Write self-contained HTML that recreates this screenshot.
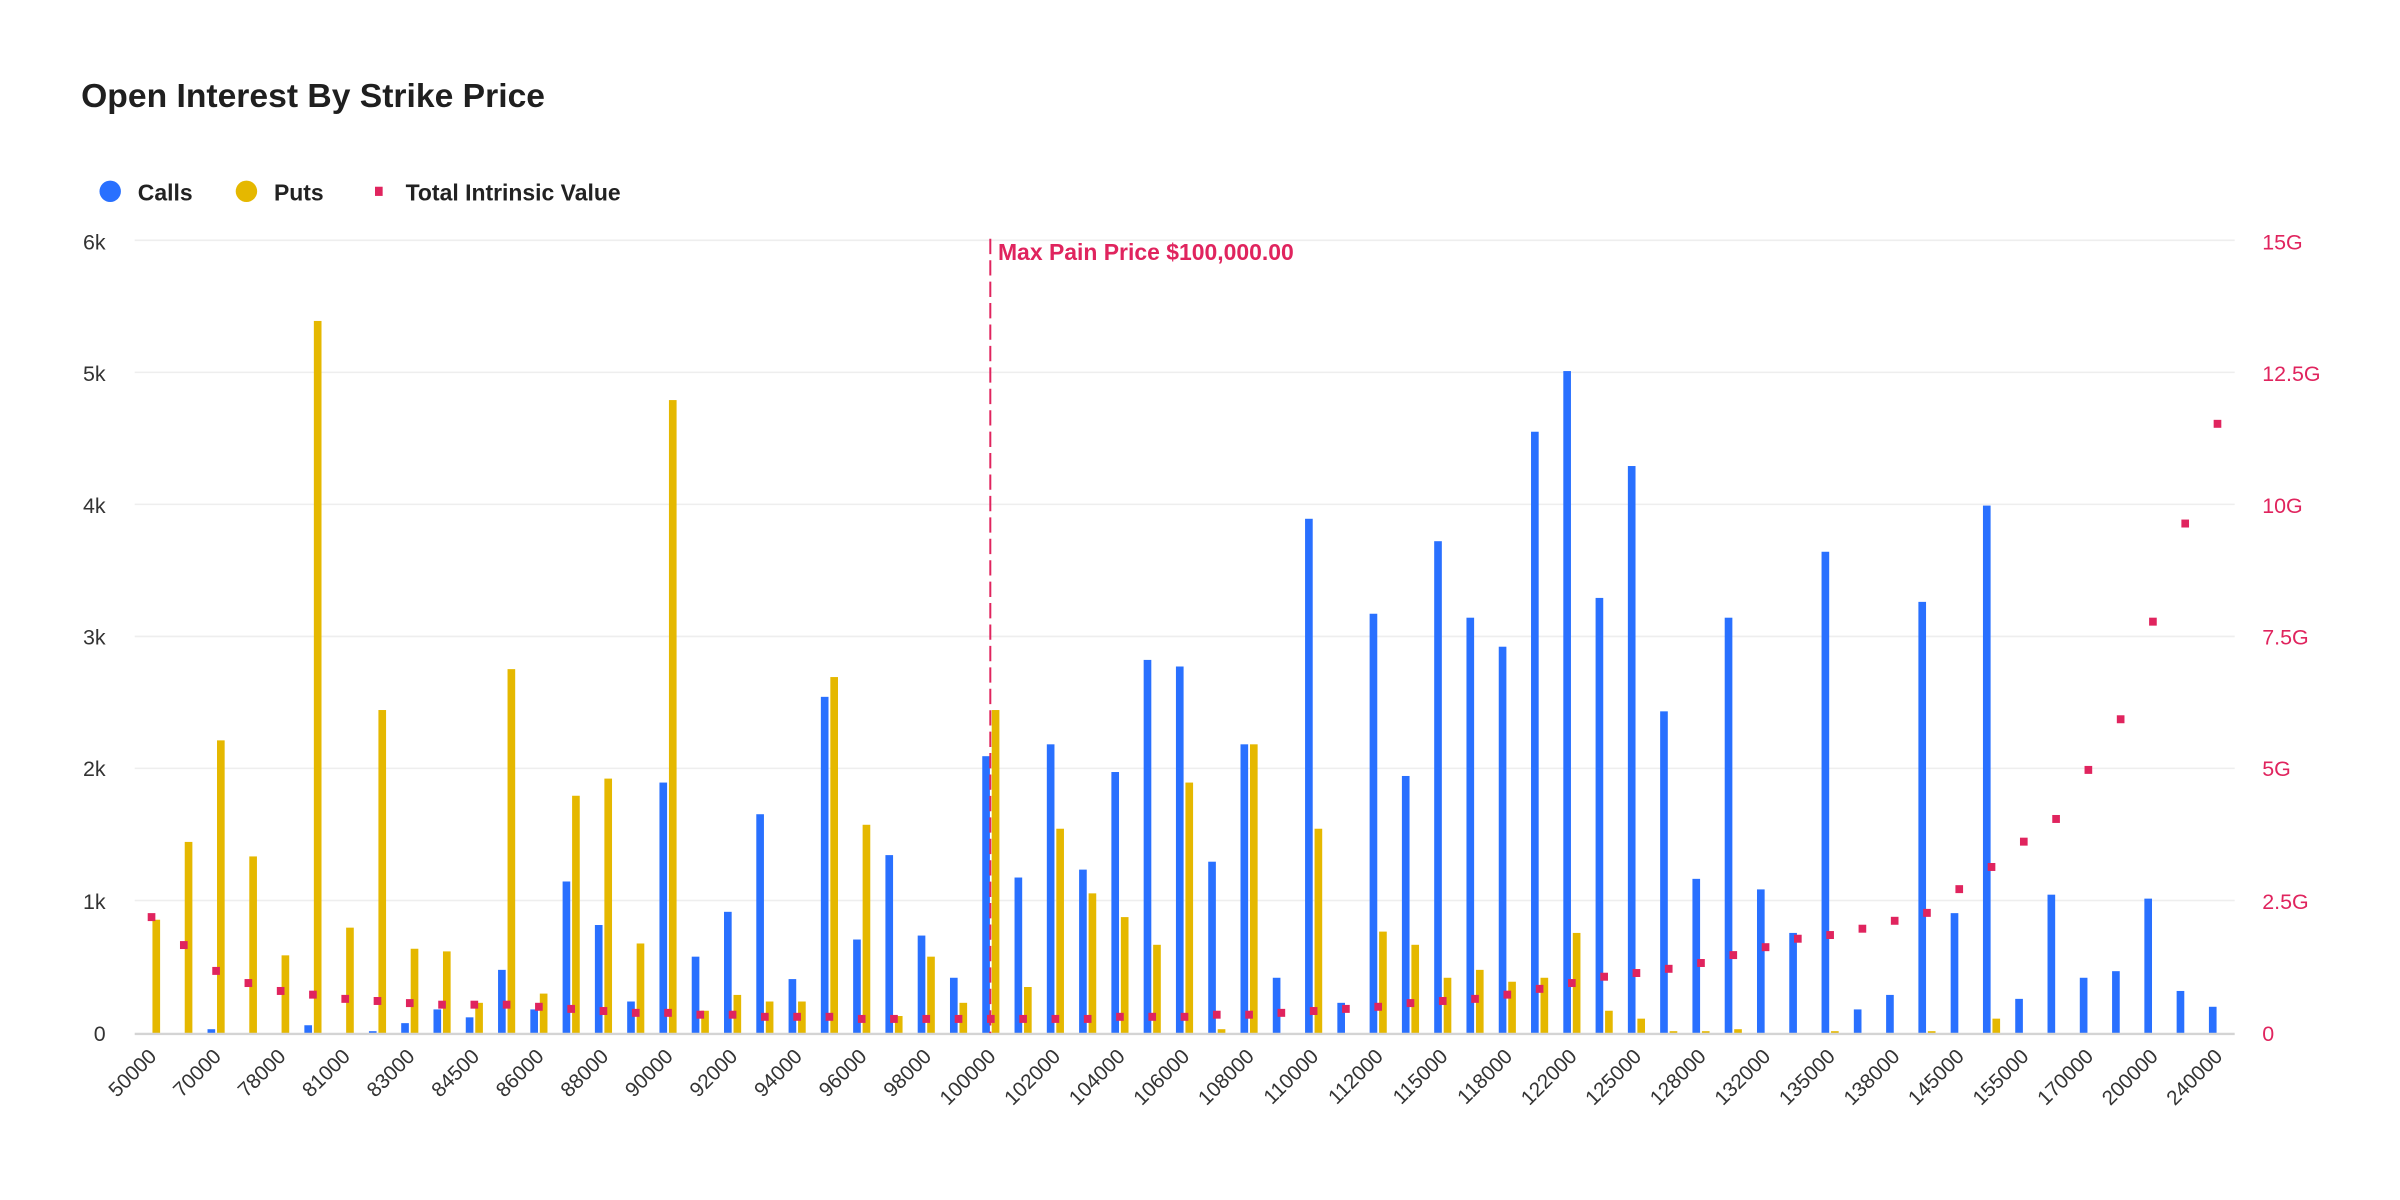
<!DOCTYPE html>
<html><head><meta charset="utf-8"><style>
html,body{margin:0;padding:0;background:#fff;}
svg{display:block;font-family:"Liberation Sans",sans-serif;}
</style></head><body>
<svg id="c" width="2400" height="1200" viewBox="0 0 1568 784" xmlns="http://www.w3.org/2000/svg">
<text x="53" y="70" font-size="22" font-weight="bold" fill="#1f1f1f">Open Interest By Strike Price</text>
<circle cx="72" cy="125" r="7" fill="#2970ff"/>
<text x="90" y="131" font-size="15" font-weight="bold" fill="#222">Calls</text>
<circle cx="161" cy="125" r="7" fill="#e5b800"/>
<text x="179" y="131" font-size="15" font-weight="bold" fill="#222">Puts</text>
<rect x="245" y="122" width="5" height="6" fill="#e0245e"/>
<text x="265" y="131" font-size="15" font-weight="bold" fill="#222">Total Intrinsic Value</text>
<g stroke="#eeeeee" stroke-width="1">
<line x1="88" x2="1460" y1="157" y2="157"/><line x1="88" x2="1460" y1="243.3" y2="243.3"/><line x1="88" x2="1460" y1="329.5" y2="329.5"/><line x1="88" x2="1460" y1="415.8" y2="415.8"/><line x1="88" x2="1460" y1="502" y2="502"/><line x1="88" x2="1460" y1="588.3" y2="588.3"/>
</g>
<g font-size="14" fill="#333" text-anchor="end">
<text x="69" y="163">6k</text><text x="69" y="249">5k</text><text x="69" y="335">4k</text><text x="69" y="421">3k</text><text x="69" y="507">2k</text><text x="69" y="594">1k</text><text x="69" y="680">0</text>
</g>
<g font-size="14" fill="#e0245e">
<text x="1478" y="163">15G</text><text x="1478" y="249">12.5G</text><text x="1478" y="335">10G</text><text x="1478" y="421">7.5G</text><text x="1478" y="507">5G</text><text x="1478" y="594">2.5G</text><text x="1478" y="680">0</text>
</g>
<g id="bars"></g>
<line x1="88" x2="1460" y1="675.5" y2="675.5" stroke="#d4d4d4" stroke-width="1.5"/>
<line x1="647" x2="647" y1="156" y2="675" stroke="#e0245e" stroke-width="1.3" stroke-dasharray="10,4"/>
<text x="652" y="170" font-size="15" font-weight="bold" fill="#e0245e">Max Pain Price $100,000.00</text>
<g font-size="13.5" fill="#333" text-anchor="end">
<text transform="translate(103,691) rotate(-45)">50000</text>
<text transform="translate(145.2,691) rotate(-45)">70000</text>
<text transform="translate(187.4,691) rotate(-45)">78000</text>
<text transform="translate(229.5,691) rotate(-45)">81000</text>
<text transform="translate(271.7,691) rotate(-45)">83000</text>
<text transform="translate(313.9,691) rotate(-45)">84500</text>
<text transform="translate(356.1,691) rotate(-45)">86000</text>
<text transform="translate(398.3,691) rotate(-45)">88000</text>
<text transform="translate(440.4,691) rotate(-45)">90000</text>
<text transform="translate(482.6,691) rotate(-45)">92000</text>
<text transform="translate(524.8,691) rotate(-45)">94000</text>
<text transform="translate(567,691) rotate(-45)">96000</text>
<text transform="translate(609.2,691) rotate(-45)">98000</text>
<text transform="translate(651.3,691) rotate(-45)">100000</text>
<text transform="translate(693.5,691) rotate(-45)">102000</text>
<text transform="translate(735.7,691) rotate(-45)">104000</text>
<text transform="translate(777.9,691) rotate(-45)">106000</text>
<text transform="translate(820.1,691) rotate(-45)">108000</text>
<text transform="translate(862.2,691) rotate(-45)">110000</text>
<text transform="translate(904.4,691) rotate(-45)">112000</text>
<text transform="translate(946.6,691) rotate(-45)">115000</text>
<text transform="translate(988.8,691) rotate(-45)">118000</text>
<text transform="translate(1031,691) rotate(-45)">122000</text>
<text transform="translate(1073.1,691) rotate(-45)">125000</text>
<text transform="translate(1115.3,691) rotate(-45)">128000</text>
<text transform="translate(1157.5,691) rotate(-45)">132000</text>
<text transform="translate(1199.7,691) rotate(-45)">135000</text>
<text transform="translate(1241.9,691) rotate(-45)">138000</text>
<text transform="translate(1284,691) rotate(-45)">145000</text>
<text transform="translate(1326.2,691) rotate(-45)">155000</text>
<text transform="translate(1368.4,691) rotate(-45)">170000</text>
<text transform="translate(1410.6,691) rotate(-45)">200000</text>
<text transform="translate(1452.8,691) rotate(-45)">240000</text>
</g>
</svg>
<script>
var C=[0,0,0.03,0,0,0.06,0,0.015,0.076,0.18,0.12,0.48,0.18,1.15,0.82,0.24,1.9,0.58,0.92,1.66,0.41,2.55,0.71,1.35,0.74,0.42,2.1,1.18,2.19,1.24,1.98,2.83,2.78,1.3,2.19,0.42,3.9,0.23,3.18,1.95,3.73,3.15,2.93,4.56,5.02,3.3,4.3,2.44,1.17,3.15,1.09,0.76,3.65,0.18,0.29,3.27,0.91,4.0,0.26,1.05,0.42,0.47,1.02,0.32,0.2];
var P=[0.86,1.45,2.22,1.34,0.59,5.4,0.8,2.45,0.64,0.62,0.23,2.76,0.3,1.8,1.93,0.68,4.8,0.17,0.29,0.24,0.24,2.7,1.58,0.13,0.58,0.23,2.45,0.35,1.55,1.06,0.88,0.67,1.9,0.03,2.19,0,1.55,0,0.77,0.67,0.42,0.48,0.39,0.42,0.76,0.17,0.11,0.015,0.015,0.03,0,0,0.015,0,0,0.015,0,0.11,0,0,0,0,0,0,0];
var T=[2.2,1.67,1.18,0.95,0.8,0.73,0.65,0.61,0.57,0.54,0.54,0.54,0.5,0.46,0.42,0.385,0.385,0.35,0.35,0.31,0.31,0.31,0.27,0.27,0.27,0.27,0.27,0.27,0.27,0.27,0.31,0.31,0.31,0.35,0.35,0.385,0.42,0.46,0.5,0.57,0.61,0.65,0.73,0.84,0.95,1.07,1.14,1.22,1.33,1.48,1.63,1.79,1.86,1.98,2.13,2.28,2.73,3.15,3.63,4.06,4.99,5.95,7.8,9.66,11.55];
var g=document.getElementById('bars'),ns='http://www.w3.org/2000/svg',s='';
for(var i=0;i<65;i++){var c=99+21.09*i;
 if(C[i]>0){var h=C[i]*86.17;s+='<rect x="'+(c-5.6)+'" y="'+(675-h)+'" width="5" height="'+h+'" fill="#2970ff"/>';}
 if(P[i]>0){var h=P[i]*86.17;s+='<rect x="'+(c+0.6)+'" y="'+(675-h)+'" width="5" height="'+h+'" fill="#e5b800"/>';}
 var y=675-T[i]/2.5*86.17;s+='<rect x="'+(c-2.5)+'" y="'+(y-2.6)+'" width="5" height="5.2" fill="#e0245e"/>';
}
g.innerHTML=s;
</script>
</body></html>
